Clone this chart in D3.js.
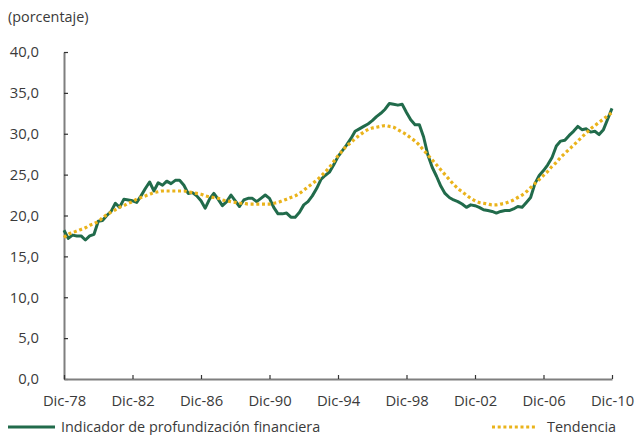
<!DOCTYPE html>
<html>
<head>
<meta charset="utf-8">
<script src="https://cdn.jsdelivr.net/npm/d3@7"></script>
<style>
  html, body { margin: 0; padding: 0; background: #fff; }
  svg { display: block; font-family: "Open Sans", sans-serif; }
  text { fill: #3a3a3a; }
</style>
</head>
<body>
<svg id="chart" width="637" height="435"></svg>
<script>
// Quarterly series, Dec-1978 to Dec-2010 (percent)
const indicador = [
  18.2, 17.2, 17.6, 17.5, 17.5, 17.0, 17.5, 17.7, 19.3, 19.4,
  20.0, 20.5, 21.5, 21.0, 22.0, 21.9, 21.8, 21.6, 22.4, 23.3,
  24.1, 23.0, 24.0, 23.7, 24.2, 23.9, 24.3, 24.3, 23.7, 22.7,
  22.8, 22.4, 21.8, 20.9, 22.0, 22.7, 22.0, 21.2, 21.7, 22.5,
  21.8, 21.1, 21.9, 22.1, 22.1, 21.7, 22.1, 22.5, 22.1, 21.0,
  20.2, 20.2, 20.3, 19.8, 19.8, 20.4, 21.3, 21.7, 22.4, 23.3,
  24.4, 24.9, 25.3, 26.2, 27.2, 27.9, 28.6, 29.4, 30.3, 30.6,
  30.9, 31.2, 31.6, 32.1, 32.5, 33.0, 33.7, 33.6, 33.5, 33.6,
  32.6, 31.7, 31.1, 31.1, 29.6, 27.4, 25.9, 24.8, 23.6, 22.7,
  22.2, 21.9, 21.7, 21.4, 21.0, 21.3, 21.2, 21.0, 20.7, 20.6,
  20.5, 20.3, 20.5, 20.6, 20.6, 20.8, 21.1, 21.0, 21.6, 22.2,
  23.9, 24.9, 25.5, 26.2, 27.1, 28.5, 29.1, 29.2, 29.8, 30.3,
  30.9, 30.5, 30.6, 30.2, 30.3, 29.9, 30.5, 31.8, 33.1
];

const tendencia = [
  17.3, 17.7, 17.9, 18.1, 18.3, 18.5, 18.8, 19.0, 19.3, 19.7,
  20.1, 20.4, 20.7, 21.0, 21.2, 21.5, 21.7, 22.0, 22.2, 22.4,
  22.6, 22.8, 22.9, 23.0, 23.0, 23.0, 23.0, 23.0, 23.0, 22.9,
  22.8, 22.7, 22.6, 22.4, 22.3, 22.2, 22.1, 21.9, 21.8, 21.7,
  21.6, 21.5, 21.5, 21.4, 21.4, 21.4, 21.4, 21.4, 21.4, 21.5,
  21.6, 21.8, 22.0, 22.2, 22.4, 22.7, 23.1, 23.5, 23.9, 24.3,
  24.8, 25.3, 25.9, 26.6, 27.3, 27.9, 28.5, 28.9, 29.4, 29.8,
  30.2, 30.5, 30.7, 30.8, 30.9, 31.0, 30.9, 30.8, 30.5, 30.2,
  29.9, 29.5, 29.1, 28.6, 28.0, 27.4, 26.8, 26.2, 25.6, 25.0,
  24.4, 23.8, 23.3, 22.9, 22.5, 22.1, 21.8, 21.6, 21.5, 21.4,
  21.3, 21.3, 21.4, 21.5, 21.7, 21.9, 22.2, 22.5, 22.9, 23.4,
  23.9, 24.4, 24.9, 25.4, 26.0, 26.5, 27.1, 27.6, 28.1, 28.6,
  29.1, 29.6, 30.1, 30.6, 31.0, 31.4, 31.8, 32.2, 32.6
];

const tickYears = [1978, 1982, 1986, 1990, 1994, 1998, 2002, 2006, 2010];
const tickLabels = ["Dic-78", "Dic-82", "Dic-86", "Dic-90", "Dic-94", "Dic-98", "Dic-02", "Dic-06", "Dic-10"];
const yTicks = [0, 5, 10, 15, 20, 25, 30, 35, 40];

const serieNames = ["Indicador de profundización financiera", "Tendencia"];
const yUnit = "(porcentaje)";

// quarter dates: December 1978 plus 3 months per step
const dates = indicador.map((_, i) => new Date(1978, 11 + 3 * i, 1));

const svg = d3.select("#chart");
const margin = { left: 64, right: 25, top: 52, bottom: 56 };
const W = 637, H = 435;
const fontSize = 14.4;

const x = d3.scaleTime()
  .domain([new Date(1978, 11, 1), new Date(2010, 11, 1)])
  .range([margin.left, W - margin.right]);
const y = d3.scaleLinear()
  .domain([0, 40])
  .range([H - margin.bottom, margin.top]);

const fmt = d3.format(".1f");

// y axis
const gy = svg.append("g")
  .attr("transform", `translate(${margin.left},0)`)
  .call(d3.axisLeft(y).tickValues(yTicks)
    .tickSizeInner(-4).tickSizeOuter(0).tickPadding(25)
    .tickFormat(d => fmt(d).replace(".", ",")));

// x axis
const gx = svg.append("g")
  .attr("transform", `translate(0,${y(0)})`)
  .call(d3.axisBottom(x)
    .tickValues(tickYears.map(yr => new Date(yr, 11, 1)))
    .tickSizeInner(-4).tickSizeOuter(0).tickPadding(16)
    .tickFormat((d, i) => tickLabels[i]));

[gx, gy].forEach(g => {
  g.select(".domain").attr("stroke", "#7f7f7f").attr("stroke-width", 2);
  g.selectAll(".tick line").attr("stroke", "#333").attr("stroke-width", 1.2);
  g.selectAll(".tick text").attr("font-size", fontSize + 0.4).attr("fill", "#3a3a3a")
    .attr("font-family", "'Open Sans', sans-serif");
});

// unit label
svg.append("text")
  .attr("x", 8).attr("y", 22)
  .attr("font-size", fontSize)
  .text(yUnit);

const green = "#216b4b";
const gold = "#eab31b";

const line = d3.line()
  .x((d, i) => x(dates[i]))
  .y(d => y(d));

svg.append("path")
  .datum(indicador)
  .attr("fill", "none")
  .attr("stroke", green)
  .attr("stroke-width", 3)
  .attr("stroke-linejoin", "round")
  .attr("d", line);

svg.append("path")
  .datum(tendencia)
  .attr("fill", "none")
  .attr("stroke", gold)
  .attr("stroke-width", 3.2)
  .attr("stroke-dasharray", "3,2.7")
  .attr("d", d3.line().curve(d3.curveMonotoneX).x((d, i) => x(dates[i])).y(d => y(d)));

// legend
const legY = 427;
svg.append("line")
  .attr("x1", 8).attr("x2", 55).attr("y1", legY).attr("y2", legY)
  .attr("stroke", green).attr("stroke-width", 3);
svg.append("text")
  .attr("x", 61).attr("y", 432).attr("font-size", fontSize)
  .text(serieNames[0]);

svg.append("line")
  .attr("x1", 492).attr("x2", 537).attr("y1", legY).attr("y2", legY)
  .attr("stroke", gold).attr("stroke-width", 3.2)
  .attr("stroke-dasharray", "3,2.7");
svg.append("text")
  .attr("x", 547).attr("y", 432).attr("font-size", fontSize)
  .text(serieNames[1]);
</script>
</body>
</html>
